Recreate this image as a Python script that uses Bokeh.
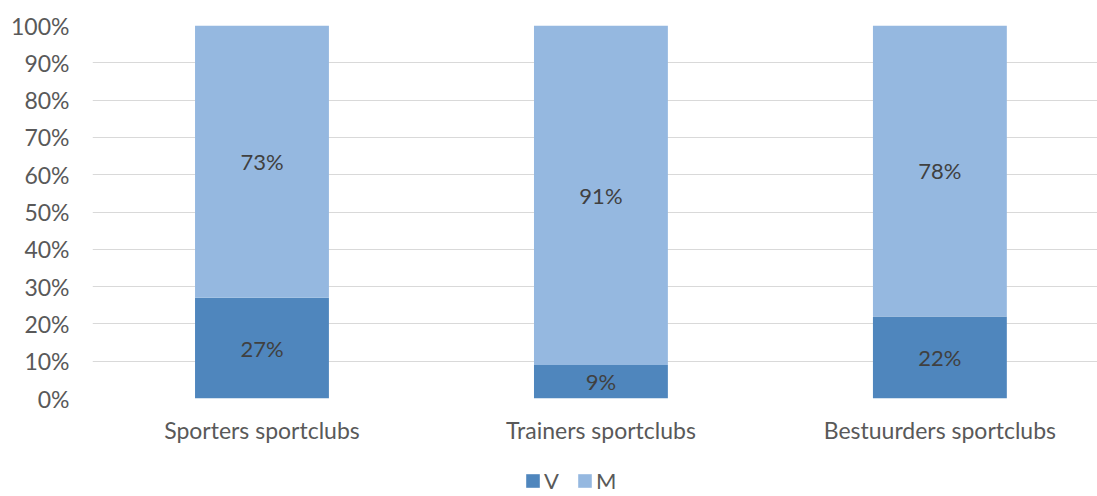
from bokeh.plotting import figure
from bokeh.layouts import column
from bokeh.models import (ColumnDataSource, Range1d, FixedTicker, NumeralTickFormatter,
                          Legend, LegendItem)
from bokeh.embed import file_html
from bokeh.resources import INLINE
from bokeh.core.properties import value

categories = ["Sporters sportclubs", "Trainers sportclubs", "Bestuurders sportclubs"]
series = ["V", "M"]
v_values = [0.27, 0.09, 0.22]
m_values = [0.73, 0.91, 0.78]
colors = ["#4f86bd", "#95b8e0"]
y_ticks = [i / 10 for i in range(11)]

xs = [i + 0.5 for i in range(len(categories))]
src = ColumnDataSource(dict(x=xs, V=v_values, M=m_values,
                            v_mid=[v / 2 for v in v_values],
                            m_mid=[v + m / 2 for v, m in zip(v_values, m_values)],
                            v_lab=[f"{round(v*100)}%" for v in v_values],
                            m_lab=[f"{round(m*100)}%" for m in m_values]))

FONT = "Lato"
FS_AX = "23px"
FS = "22px"
W = 1097
p = figure(width=W, height=460, output_backend="svg", toolbar_location=None,
           x_range=Range1d(0, 2.965), y_range=Range1d(0, 1),
           min_border_left=92, min_border_top=25, min_border_bottom=62, min_border_right=0)
p.outline_line_color = None
p.xgrid.grid_line_color = None
p.ygrid.grid_line_color = "#d9d9d9"
p.ygrid.ticker = FixedTicker(ticks=y_ticks)

p.vbar_stack(series, x="x", width=0.395, source=src, color=colors, line_color=None)

for ycol, tcol in (("v_mid", "v_lab"), ("m_mid", "m_lab")):
    p.text(x="x", y=ycol, text=tcol, source=src, text_align="center",
           text_baseline="middle", text_color="#404040", text_font=value(FONT),
           text_font_size=FS)

p.yaxis.ticker = FixedTicker(ticks=y_ticks)
p.yaxis.formatter = NumeralTickFormatter(format="0%")
p.xaxis.ticker = FixedTicker(ticks=xs)
p.xaxis.major_label_overrides = {x: c for x, c in zip(xs, categories)}
for ax in (p.xaxis, p.yaxis):
    ax.axis_line_color = None
    ax.major_tick_line_color = None
    ax.minor_tick_line_color = None
    ax.major_tick_out = 0
    ax.major_tick_in = 0
    ax.major_label_text_color = "#595959"
    ax.major_label_text_font = FONT
    ax.major_label_text_font_size = FS_AX
p.yaxis.major_label_standoff = 23
p.xaxis.major_label_standoff = 17

# legend in a strip below the chart
lf = figure(width=W, height=36, output_backend="svg", toolbar_location=None,
            x_range=Range1d(0, 1), y_range=Range1d(0, 1),
            min_border_left=0, min_border_right=0, min_border_top=0, min_border_bottom=0,
            x_axis_type=None, y_axis_type=None)
lf.outline_line_color = None
lf.grid.visible = False
hidden = ColumnDataSource(dict(x=[0.5], bottom=[0.5], top=[0.5]))
rs = [lf.vbar(x="x", bottom="bottom", top="top", width=0.0, source=hidden,
              color=c, line_color=None) for c in colors]
lg = Legend(items=[LegendItem(label=s, renderers=[r]) for s, r in zip(series, rs)],
            orientation="horizontal")
lg.border_line_color = None
lg.background_fill_alpha = 0
lg.padding = 0
lg.margin = 0
lg.spacing = 12
lg.glyph_width = 17
lg.glyph_height = 17
lg.label_standoff = 3
lg.label_text_font = FONT
lg.label_text_font_size = FS
lg.label_text_color = "#595959"
lf.add_layout(lg, "center")

layout = column(p, lf, spacing=0)
lf_frame_left = 92
lg.location = (526 - 2 - lf_frame_left, 2)
open("out.html", "w").write(file_html(layout, INLINE))
